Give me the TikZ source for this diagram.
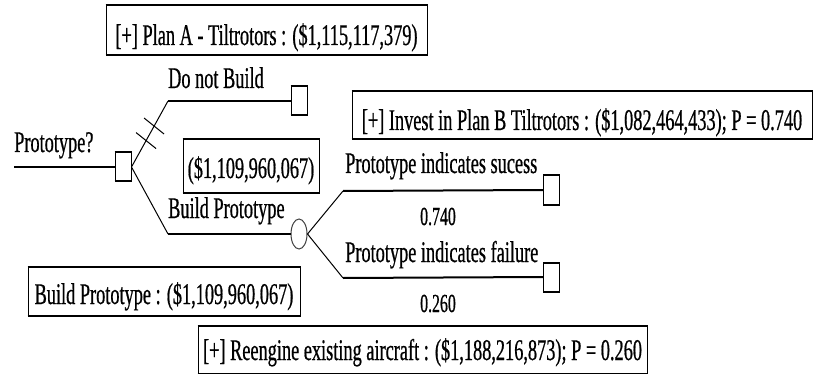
\documentclass[tikz,border=0pt]{standalone}
\usepackage{fontspec}
\setmainfont{Liberation Serif}[FakeStretch=0.61,FakeBold=0.6]
\usetikzlibrary{calc,shapes.geometric}
\begin{document}
\begin{tikzpicture}[x=1pt,y=-1pt]
\tikzset{
  hedges/.style={append after command={
     (\tikzlastnode.north west) edge[line width=2pt, line cap=butt] (\tikzlastnode.north east)
     (\tikzlastnode.south west) edge[line width=2pt, line cap=butt] (\tikzlastnode.south east)}},
  lbl/.style={font=\fontsize{30}{32}\selectfont, inner sep=0pt, anchor=base west},
  prob/.style={font=\fontsize{26}{28}\selectfont, inner sep=0pt, anchor=base},
  bx/.style={draw, line width=1pt, font=\fontsize{30}{32}\selectfont, inner xsep=0pt, inner ysep=0pt, anchor=base, hedges},
  sq/.style={draw, line width=1pt, minimum width=16pt, minimum height=28pt, inner sep=0pt, fill=white, hedges},
  chance/.style={draw=black!75, ellipse, line width=1pt, minimum width=16pt, minimum height=30pt, inner sep=0pt, fill=white},
  diag/.style={line width=1pt},
  hz/.style={line width=2pt},
  hash/.style={line width=1pt}
}
\useasboundingbox (0,0) rectangle (813,374);

% decision / chance / terminal nodes
\node[sq] (dP) at (123,167) {};
\node[sq] (dN) at (299,101) {};
\node[chance] (cB) at (299,234) {};
\node[sq] (tS) at (551.5,190) {};
\node[sq] (tF) at (551.5,277) {};

\coordinate (start) at (14,167);
\coordinate (kN) at (168,101);
\coordinate (kB) at (168,234);
\coordinate (kS) at (343,191);
\coordinate (kF) at (343,278);

\draw[hz] (start) -- (dP.west);
\draw[diag] (dP.east) -- (kN);
\draw[hz] (kN) -- (dN.west);
\draw[diag] (dP.east) -- (kB);
\draw[hz] (kB) -- (cB.west);
\draw[diag] (cB.east) -- (kS);
\draw[hz] (kS) -- (tS.west);
\draw[diag] (cB.east) -- (kF);
\draw[hz] (kF) -- (tF.west);

% hash marks on the rejected branch
\coordinate (h1) at ($(dP.east)!0.40!(kN)$);
\coordinate (h2) at ($(dP.east)!0.62!(kN)$);
\draw[hash] ($(h1)+(-10,-8)$) -- ($(h1)+(10,8)$);
\draw[hash] ($(h2)+(-10,-8)$) -- ($(h2)+(10,8)$);

% labels
\node[lbl] (lP) at (14,152) {Prototype?};
\node[lbl] (lN) at (168,88) {Do not Build};
\node[lbl] (lB) at (168,218) {Build Prototype};
\node[lbl] (lS) at (345,173) {Prototype indicates sucess};
\node[lbl] (lF) at (345,262) {Prototype indicates failure};
\node[prob] (pS) at (438,225) {0.740};
\node[prob] (pF) at (438,312) {0.260};

% boxes
\node[bx, minimum width=321pt, text height=39pt, text depth=10pt] (bA) at (266.5,45)
  {[+] Plan A - Tiltrotors : (\$1,115,117,379)};
\node[bx, minimum width=460pt, text height=38pt, text depth=9pt] (bB) at (582,130)
  {[+] Invest in Plan B Tiltrotors : (\$1,082,464,433); P = 0.740};
\node[bx, minimum width=136pt, text height=38pt, text depth=14pt] (bV) at (251,178)
  {(\$1,109,960,067)};
\node[bx, minimum width=272pt, text height=37pt, text depth=11pt] (bP) at (164,304)
  {Build Prototype : (\$1,109,960,067)};
\node[bx, minimum width=449pt, text height=34pt, text depth=13pt] (bR) at (422.5,360)
  {[+] Reengine existing aircraft : (\$1,188,216,873); P = 0.260};
\end{tikzpicture}
\end{document}
